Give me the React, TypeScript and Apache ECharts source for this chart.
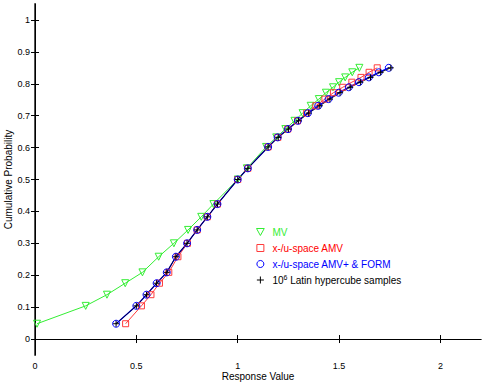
import React, { useEffect, useRef } from "react";
import * as echarts from "echarts";

const probLevels = [0.048, 0.104, 0.139, 0.175, 0.209, 0.258, 0.3, 0.342, 0.383, 0.423, 0.5, 0.535, 0.602, 0.632, 0.658, 0.684, 0.708, 0.731, 0.752, 0.772, 0.789, 0.805, 0.82, 0.836, 0.85];
const mvResponse = [0.01, 0.25, 0.355, 0.445, 0.53, 0.61, 0.685, 0.755, 0.82, 0.88, 1.0, 1.045, 1.14, 1.19, 1.235, 1.28, 1.32, 1.36, 1.4, 1.435, 1.47, 1.5, 1.53, 1.565, 1.6];
const amvResponse = [0.447, 0.525, 0.572, 0.614, 0.66, 0.705, 0.752, 0.8, 0.85, 0.9, 1.0, 1.05, 1.15, 1.198, 1.247, 1.295, 1.34, 1.385, 1.43, 1.472, 1.518, 1.563, 1.608, 1.648, 1.688];
const amvPlusResponse = [0.4, 0.5, 0.55, 0.6, 0.65, 0.695, 0.75, 0.8, 0.85, 0.9, 1.0, 1.05, 1.15, 1.197, 1.248, 1.297, 1.346, 1.397, 1.448, 1.498, 1.548, 1.598, 1.647, 1.696, 1.745];
const lhsResponse = [0.4, 0.5, 0.55, 0.6, 0.65, 0.695, 0.75, 0.8, 0.85, 0.9, 1.0, 1.05, 1.15, 1.2, 1.25, 1.3, 1.35, 1.405, 1.455, 1.505, 1.555, 1.605, 1.655, 1.705, 1.755];

const seriesNames = ["MV", "x-/u-space AMV", "x-/u-space AMV+ & FORM", "LHS"];
const xTicks = [0, 0.5, 1, 1.5, 2];
const xTickLabels = ["0", "0.5", "1", "1.5", "2"];
const yTicks = [0, 0.1, 0.2, 0.3, 0.4, 0.5, 0.6, 0.7, 0.8, 0.9, 1];
const yTickLabels = ["0", "0.1", "0.2", "0.3", "0.4", "0.5", "0.6", "0.7", "0.8", "0.9", "1"];

const GREEN = "#33ee33";
const RED = "#ff3b3b";
const BLUE = "#0000ff";
const FONT = "Liberation Sans";

const TRI = "path://M0,0 L10,0 L5,9 Z";
const SQUARE = "path://M0,0 L10,0 L10,10 L0,10 Z";
const PLUS = "path://M5,0 L5,10 M0,5 L10,5";

function pairs(xs: number[]) {
  return xs.map((x, i) => [x, probLevels[i]]);
}

export default function App() {
  const ref = useRef<HTMLDivElement>(null);
  useEffect(() => {
    if (!ref.current) return;
    const chart = echarts.init(ref.current, null, { renderer: "svg" });
    const labelFmt = (vals: number[], labels: string[]) => (v: number) => {
      const i = vals.findIndex((t) => Math.abs(t - v) < 1e-9);
      return i >= 0 ? labels[i] : "";
    };
    const mkSeries = (name: string, xs: number[], color: string, symbol: string, size: number, width: number) => ({
      name,
      type: "line",
      data: pairs(xs),
      symbol,
      symbolSize: size,
      showAllSymbol: true,
      lineStyle: { color, width },
      itemStyle: { color: "rgba(255,255,255,0)", borderColor: color, borderWidth: 1 },
      emphasis: { disabled: true },
      z: 2,
    });
    const legendItem = (name: string, icon: string, color: string, textColor: string, extra: any = {}) => ({
      name,
      icon,
      itemStyle: { color: "rgba(255,255,255,0)", borderColor: color, borderWidth: 1 },
      textStyle: { color: textColor, ...extra },
    });
    chart.setOption({
      animation: false,
      textStyle: { fontFamily: FONT },
      grid: { left: 35, right: 4, top: 4, bottom: 29, show: false, containLabel: false, outerBoundsMode: "none" },
      xAxis: [
        {
          type: "value",
          min: 0,
          max: 2.2,
          position: "bottom",
          name: "Response Value",
          nameLocation: "middle",
          nameGap: 16,
          nameMoveOverlap: false,
          nameTextStyle: { fontSize: 10, color: "#000", fontFamily: FONT },
          axisLine: { show: true, lineStyle: { color: "#222", width: 1 } },
          axisTick: { show: true, inside: true, length: 4, customValues: xTicks, lineStyle: { color: "#000" } },
          axisLabel: { customValues: xTicks, formatter: labelFmt(xTicks, xTickLabels), fontSize: 9, color: "#000", margin: 6, fontFamily: FONT },
          splitLine: { show: false },
        },
        {
          type: "value",
          min: 0,
          max: 2.2,
          position: "top",
          axisLine: { show: true, lineStyle: { color: "#000", width: 1 } },
          axisTick: { show: true, inside: true, length: 4, customValues: xTicks, lineStyle: { color: "#000" } },
          axisLabel: { show: false },
          splitLine: { show: false },
        },
      ],
      yAxis: [
        {
          type: "value",
          min: -0.05,
          max: 1.05,
          position: "left",
          name: "Cumulative Probability",
          nameLocation: "middle",
          nameGap: 22,
          nameMoveOverlap: false,
          nameTextStyle: { fontSize: 10, color: "#000", fontFamily: FONT },
          axisLine: { show: true, lineStyle: { color: "#555", width: 2 } },
          axisTick: { show: true, inside: true, length: 4, customValues: yTicks, lineStyle: { color: "#000" } },
          axisLabel: { customValues: yTicks, formatter: labelFmt(yTicks, yTickLabels), fontSize: 9, color: "#000", margin: 5, fontFamily: FONT },
          splitLine: { show: false },
        },
        {
          type: "value",
          min: -0.05,
          max: 1.05,
          position: "right",
          axisLine: { show: true, lineStyle: { color: "#000", width: 1 } },
          axisTick: { show: true, inside: true, length: 4, customValues: yTicks, lineStyle: { color: "#000" } },
          axisLabel: { show: false },
          splitLine: { show: false },
        },
      ],
      legend: {
        orient: "vertical",
        left: 251,
        top: 221,
        itemWidth: 14,
        itemHeight: 7,
        itemGap: 4,
        selectedMode: false,
        textStyle: { fontSize: 10, fontFamily: FONT, lineHeight: 12 },
        formatter: (name: string) =>
          name === "LHS" ? "{a|10}{s|6}{a| Latin hypercube samples}" : name,
        data: [
          legendItem(seriesNames[0], TRI, GREEN, GREEN),
          legendItem(seriesNames[1], SQUARE, RED, "#ff0000"),
          legendItem(seriesNames[2], "circle", BLUE, BLUE),
          legendItem(seriesNames[3], PLUS, "#000", "#000", {
            rich: {
              a: { fontSize: 10, color: "#000", fontFamily: FONT, lineHeight: 12 },
              s: { fontSize: 7, color: "#000", fontFamily: FONT, verticalAlign: "top", lineHeight: 12, padding: [0, 0, 6, 0] },
            },
          }),
        ],
      },
      series: [
        mkSeries(seriesNames[0], mvResponse, GREEN, TRI, 7, 1),
        mkSeries(seriesNames[1], amvResponse, RED, SQUARE, 6, 1),
        mkSeries(seriesNames[2], amvPlusResponse, BLUE, "circle", 7, 1.3),
        mkSeries(seriesNames[3], lhsResponse, "#000", PLUS, 6, 0.8),
      ],
    });
    return () => chart.dispose();
  }, []);
  return <div ref={ref} style={{ width: 485, height: 384, position: "absolute", left: 0, top: 0 }} />;
}
